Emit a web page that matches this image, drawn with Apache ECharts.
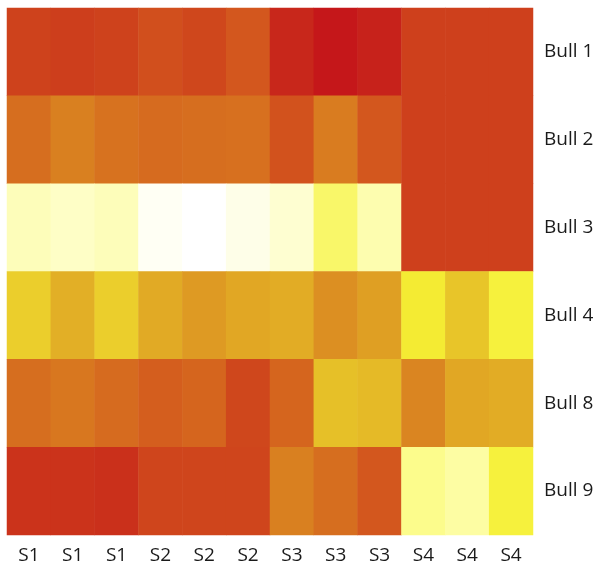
<!DOCTYPE html>
<html>
<head>
<meta charset="utf-8">
<script src="https://cdn.jsdelivr.net/npm/echarts@6/dist/echarts.min.js"></script>
<style>
  html, body { margin: 0; padding: 0; background: #fff; }
  #chart { width: 597px; height: 565px; }
</style>
</head>
<body>
<div id="chart"></div>
<script>
// columns (samples) and rows (bulls)
const samples = ['S1', 'S1', 'S1', 'S2', 'S2', 'S2', 'S3', 'S3', 'S3', 'S4', 'S4', 'S4']
const bulls = ['Bull 1', 'Bull 2', 'Bull 3', 'Bull 4', 'Bull 8', 'Bull 9']

// relative level per cell, 0 = dark red ... 100 = white
const bull1 = [20, 18, 20, 25, 22, 28, 8, 2, 6, 19, 19, 19]
const bull2 = [38, 46, 40, 37, 38, 39, 26, 44, 28, 19, 19, 19]
const bull3 = [94, 95, 94, 99, 100, 98, 96, 86, 93, 19, 19, 19]
const bull4 = [73, 64, 73, 62, 56, 61, 63, 52, 58, 79, 71, 81]
const bull8 = [38, 42, 37, 31, 34, 22, 34, 70, 68, 48, 61, 63]
const bull9 = [13, 13, 12, 21, 21, 21, 46, 38, 28, 90, 92, 81]

const rows = [bull1, bull2, bull3, bull4, bull8, bull9]

const heatData = []
rows.forEach((row, y) => {
  row.forEach((v, x) => {
    heatData.push([x, y, v])
  })
})

const chart = echarts.init(document.getElementById('chart'))
chart.setOption({
  animation: false,
  grid: {
    left: 7,
    right: 64,
    top: 8,
    bottom: 30
  },
  xAxis: {
    type: 'category',
    data: samples,
    axisLine: { show: false },
    axisTick: { show: false },
    splitLine: { show: false },
    axisLabel: {
      interval: 0,
      margin: 11,
      color: '#1a1a1a',
      fontSize: 19,
      fontFamily: 'Open Sans'
    }
  },
  yAxis: {
    type: 'category',
    data: bulls,
    position: 'right',
    inverse: true,
    axisLine: { show: false },
    axisTick: { show: false },
    splitLine: { show: false },
    axisLabel: {
      interval: 0,
      margin: 11,
      color: '#1a1a1a',
      fontSize: 19,
      fontFamily: 'Open Sans'
    }
  },
  visualMap: {
    show: false,
    min: 0,
    max: 100,
    dimension: 2,
    inRange: {
      color: ['#c4121a', '#c92c1b', '#ce421c', '#d45c1e', '#d7721f', '#db8a21',
              '#e0a424', '#e6c028', '#f5f034', '#fcfc8c', '#ffffff']
    }
  },
  series: [
    {
      type: 'heatmap',
      data: heatData,
      itemStyle: { borderWidth: 0 },
      emphasis: { disabled: true }
    }
  ]
})
</script>
</body>
</html>
